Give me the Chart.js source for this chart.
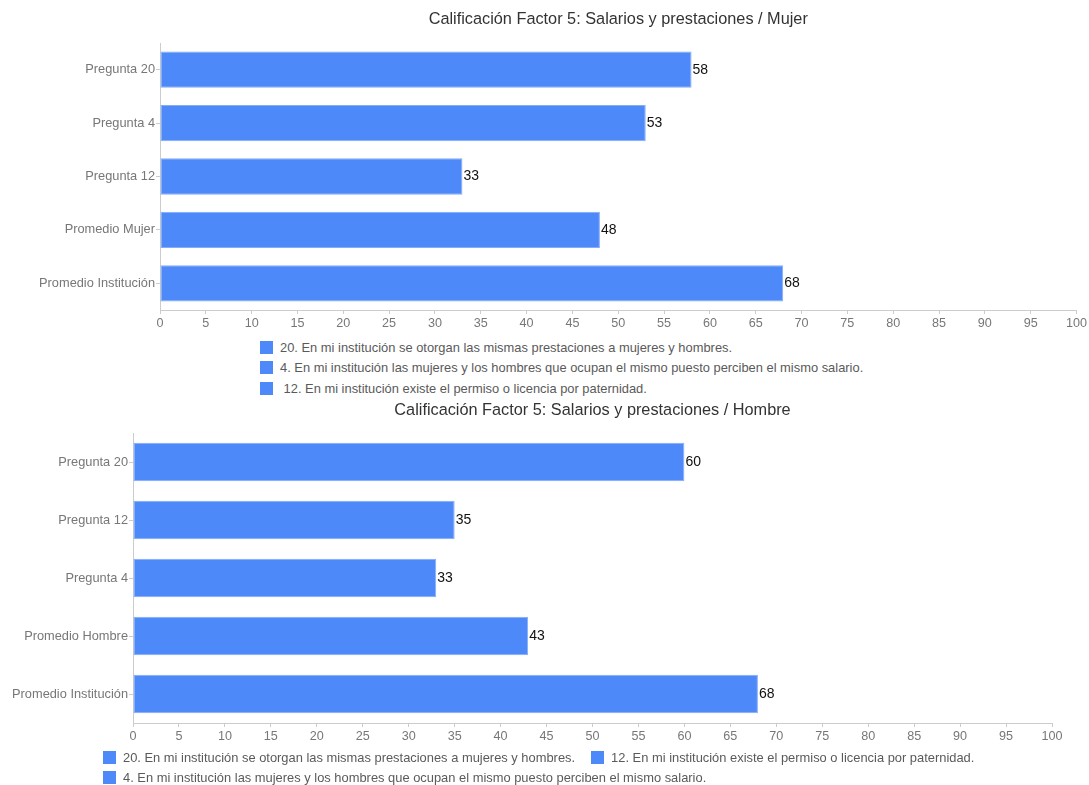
<!DOCTYPE html>
<html>
<head>
<meta charset="utf-8">
<script src="https://cdn.jsdelivr.net/npm/chart.js@4"></script>
<style>
  body { margin: 0; background: #fff; font-family: "Liberation Sans", Arial, sans-serif; }
  #wrap { position: relative; width: 1089px; height: 785px; overflow: hidden; }
  canvas { position: absolute; left: 0; }
  .legend { position: absolute; display: flex; flex-wrap: wrap; font-size: 12.9px; color: #5a5a5a; }
  .legend .item { display: flex; align-items: center; height: 20.5px; margin-right: 16px; white-space: pre; }
  .legend .sq { width: 13px; height: 13px; background: #4d89f9; margin-right: 7px; flex: none; }
</style>
</head>
<body>
<div id="wrap">
  <canvas id="chart-mujer" width="1089" height="335" style="top:0"></canvas>
  <div class="legend" id="leg-mujer" style="left:260px; top:337px; width:817px"></div>
  <canvas id="chart-hombre" width="1089" height="357" style="top:391px"></canvas>
  <div class="legend" id="leg-hombre" style="left:103px; top:747px; width:960px"></div>
</div>
<script>
// Calificaciones por pregunta
const catMujer = ['Pregunta 20', 'Pregunta 4', 'Pregunta 12', 'Promedio Mujer', 'Promedio Institución'];
const valMujer = [58, 53, 33, 48, 68];
const catHombre = ['Pregunta 20', 'Pregunta 12', 'Pregunta 4', 'Promedio Hombre', 'Promedio Institución'];
const valHombre = [60, 35, 33, 43, 68];

const legMujer = [
  '20. En mi institución se otorgan las mismas prestaciones a mujeres y hombres.',
  '4. En mi institución las mujeres y los hombres que ocupan el mismo puesto perciben el mismo salario.',
  ' 12. En mi institución existe el permiso o licencia por paternidad.'
];
const legHombre = [
  '20. En mi institución se otorgan las mismas prestaciones a mujeres y hombres.',
  '12. En mi institución existe el permiso o licencia por paternidad.',
  '4. En mi institución las mujeres y los hombres que ocupan el mismo puesto perciben el mismo salario.'
];

const escalaMin = 0, escalaMax = 100, escalaPaso = 5;

const FONT = '"Liberation Sans", Arial, sans-serif';
const AZUL = '#4d89f9';

// titulo centrado sobre el area de barras y etiquetas de valor al final de cada barra
const extras = {
  id: 'extras',
  afterDatasetsDraw(chart, args, opts) {
    const ctx = chart.ctx;
    const area = chart.chartArea;
    ctx.save();
    ctx.fillStyle = '#333';
    ctx.font = '16.3px ' + FONT;
    ctx.textAlign = 'center';
    ctx.textBaseline = 'middle';
    ctx.fillText(opts.titulo, (area.left + area.right) / 2, 20);

    ctx.fillStyle = '#111';
    ctx.font = '14px ' + FONT;
    ctx.textAlign = 'left';
    const meta = chart.getDatasetMeta(0);
    meta.data.forEach((bar, i) => {
      ctx.fillText(chart.data.datasets[0].data[i], bar.x + 1, bar.y);
    });
    ctx.restore();
  }
};

function drawChart(id, cats, vals, titulo, left, right, top, barPct) {
  const ctx = document.getElementById(id).getContext('2d');
  return new Chart(ctx, {
    type: 'bar',
    data: {
      labels: cats,
      datasets: [{
        data: vals,
        backgroundColor: AZUL,
        borderColor: '#86acf8',
        borderWidth: 1,
        borderSkipped: false,
        categoryPercentage: 1,
        barPercentage: barPct
      }]
    },
    plugins: [extras],
    options: {
      indexAxis: 'y',
      responsive: false,
      animation: false,
      layout: { padding: { top: top, right: 1089 - right, left: 0, bottom: 0 } },
      plugins: {
        legend: { display: false },
        tooltip: { enabled: false },
        extras: { titulo: titulo }
      },
      scales: {
        x: {
          min: escalaMin,
          max: escalaMax,
          afterFit(scale) { scale.height = 25; },
          ticks: { stepSize: escalaPaso, color: '#777', padding: 2, font: { family: FONT, size: 12.6 } },
          grid: { drawOnChartArea: false, drawTicks: true, tickLength: 4, color: '#ccc' },
          border: { display: true, color: '#ccc' }
        },
        y: {
          afterFit(scale) { scale.width = left; },
          ticks: { color: '#777', padding: 1, font: { family: FONT, size: 12.8 } },
          grid: { offset: false, drawOnChartArea: false, drawTicks: true, tickLength: 4, color: '#ccc' },
          border: { display: true, color: '#ccc' }
        }
      }
    }
  });
}

function drawLegend(id, items) {
  const el = document.getElementById(id);
  el.innerHTML = items.map(t => `<div class="item"><span class="sq"></span><span>${t}</span></div>`).join('');
}

drawChart('chart-mujer', catMujer, valMujer, 'Calificación Factor 5: Salarios y prestaciones / Mujer', 160, 1077, 43, 0.68);
drawChart('chart-hombre', catHombre, valHombre, 'Calificación Factor 5: Salarios y prestaciones / Hombre', 133, 1052, 42, 0.66);
drawLegend('leg-mujer', legMujer);
drawLegend('leg-hombre', legHombre);
</script>
</body>
</html>
